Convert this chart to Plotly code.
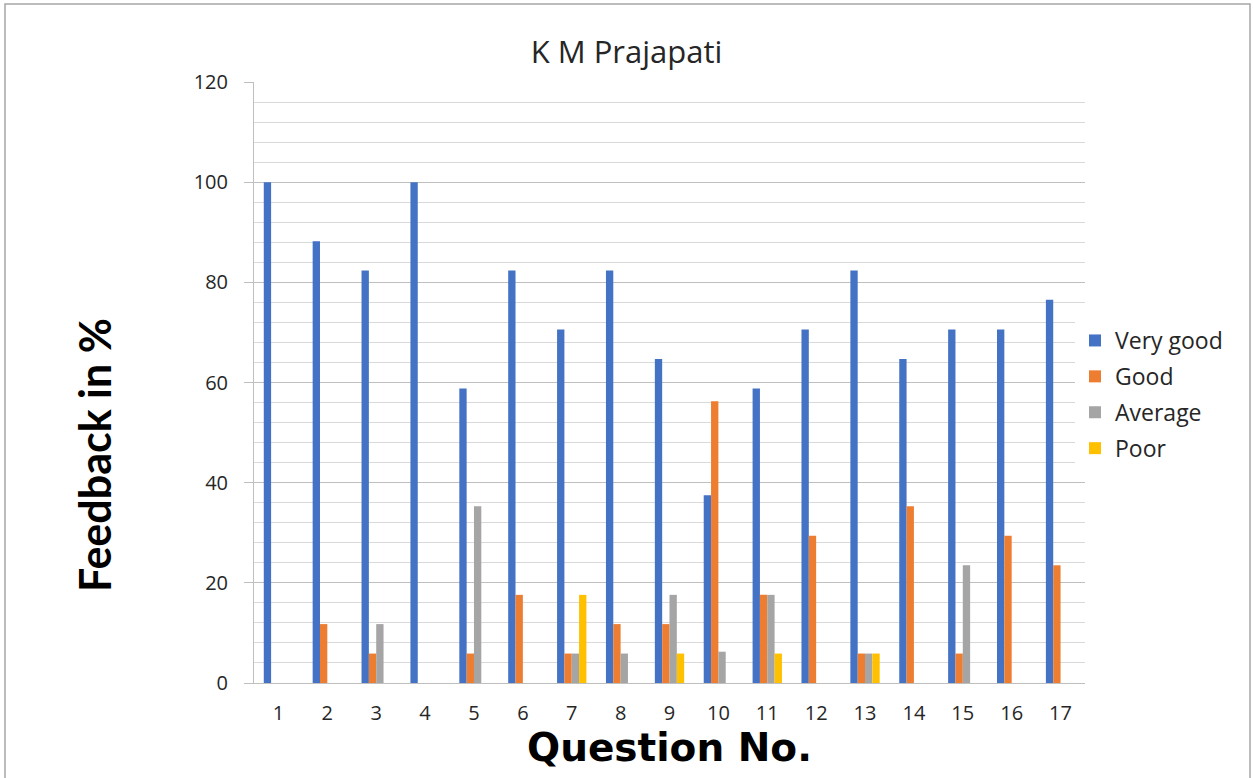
import plotly.graph_objects as go

questions = [str(i) for i in range(1, 18)]
very_good = [100, 88.2, 82.35, 100, 58.8, 82.35, 70.6, 82.35, 64.7, 37.5, 58.8, 70.6, 82.35, 64.7, 70.6, 70.6, 76.5]
good      = [0, 11.76, 5.88, 0, 5.88, 17.6, 5.88, 11.76, 11.76, 56.25, 17.6, 29.4, 5.88, 35.3, 5.88, 29.4, 23.5]
average   = [0, 0, 11.76, 0, 35.3, 0, 5.88, 5.88, 17.6, 6.25, 17.6, 0, 5.88, 0, 23.5, 0, 0]
poor      = [0, 0, 0, 0, 0, 0, 17.6, 0, 5.88, 0, 5.88, 0, 5.88, 0, 0, 0, 0]

series_names = ["Very good", "Good", "Average", "Poor"]
series_values = [very_good, good, average, poor]
colors = ["#4472C4", "#ED7D31", "#A5A5A5", "#FFC000"]

fig = go.Figure()
for i, (name, vals, col) in enumerate(zip(series_names, series_values, colors)):
    fig.add_trace(go.Bar(x=questions, y=vals, name=name, marker=dict(color=col, line=dict(width=0)),
                         legendgroup=str(i)))

W, H = 1253, 778
L, R, T, B = 254, 1085, 82, 683
pw, ph = R - L, B - T

def px(x):
    return (x - L) / pw

def py(y):
    return (B - y) / ph

fig.update_layout(
    width=W, height=H,
    margin=dict(l=L, r=W - R, t=T, b=H - B, autoexpand=False),
    paper_bgcolor="white", plot_bgcolor="white",
    barmode="group", bargap=0.4, bargroupgap=0,
    font=dict(family="Open Sans, sans-serif", color="#404040"),
    title=dict(text="K M Prajapati", x=0.5, xanchor="center", y=1 - 52 / H, yanchor="middle",
               font=dict(size=31, color="#262626", family="Open Sans, sans-serif")),
    showlegend=True,
    legend=dict(x=px(1075), xanchor="left", y=py(319), yanchor="top",
                font=dict(size=23, color="#262626", family="Open Sans, sans-serif"),
                traceorder="grouped", tracegroupgap=3, itemwidth=30),
    xaxis=dict(type="category", showline=True, linecolor="#bfbfbf", linewidth=1,
               ticks="", tickfont=dict(size=20, color="#262626"), ticklabelstandoff=12,
               showgrid=False, zeroline=False),
    yaxis=dict(range=[0, 120], dtick=20, tick0=0, showline=True, linecolor="#bfbfbf", linewidth=1,
               ticks="outside", ticklen=9, tickcolor="#bfbfbf", ticklabelstandoff=12,
               tickfont=dict(size=20, color="#262626"),
               showgrid=True, gridcolor="#bfbfbf", gridwidth=1, zeroline=False,
               minor=dict(dtick=4, showgrid=True, gridcolor="#d9d9d9", gridwidth=1, ticks="")),
    annotations=[
        dict(text="<b>Feedback in %</b>", xref="paper", yref="paper", x=px(94), y=py(455),
             xanchor="center", yanchor="middle", textangle=-90, showarrow=False,
             font=dict(size=43, color="black", family="Lato, sans-serif")),
        dict(text="<b>Question No.</b>", xref="paper", yref="paper", x=px(669), y=py(747),
             xanchor="center", yanchor="middle", showarrow=False,
             font=dict(size=39, color="black", family="DejaVu Sans, sans-serif")),
    ],
    shapes=[
        dict(type="rect", xref="paper", yref="paper", x0=px(5), x1=px(1250), y0=py(800), y1=py(4),
             line=dict(color="#a6a6a6", width=1.5), fillcolor="rgba(0,0,0,0)", layer="below"),
    ],
)

fig.write_html("out.html", config={"displayModeBar": False},
               post_script="document.body.style.margin='0';")
